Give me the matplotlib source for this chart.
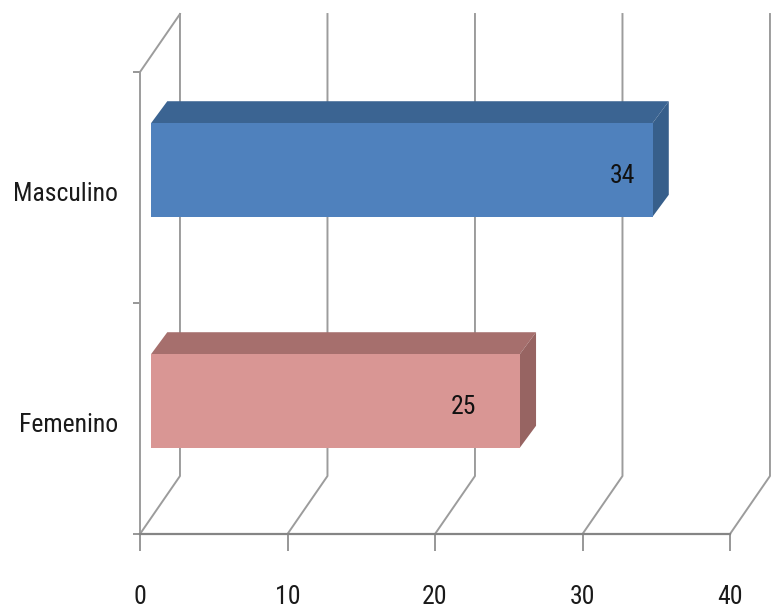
import matplotlib
matplotlib.use('Agg')
import matplotlib.pyplot as plt
from matplotlib import font_manager

categories = ['Femenino', 'Masculino']
values = [25, 34]
x_ticks = [0, 10, 20, 30, 40]

front_colors = ['#D99694', '#4F81BD']
top_colors = ['#A66F6D', '#3B6492']
side_colors = ['#976462', '#375F8B']

W, H = 773, 616
GRID = '#9c9c9c'

# 3d look: offsets in data units
wall_dx, wall_dy = 2.71, 0.251
bar_dx, bar_dy = 1.1, 0.095
bar_start = 0.75
bar_h = 0.405
bar_shift = 0.076
label_back = [3.85, 2.05]  # how far the value label sits in from the bar end

names = {f.name for f in font_manager.fontManager.ttflist}
font = 'Liberation Sans'
size = 16.5
for cand in ['Liberation Sans Narrow', 'Roboto Condensed', 'Open Sans Condensed', 'Noto Sans Condensed']:
    if cand in names:
        font = cand
        size = 18.5
        break

fig = plt.figure(figsize=(W / 100, H / 100), dpi=100)
ax = fig.add_axes([140 / W, 1 - 534 / H, 590 / W, 462 / H])
ax.set_xlim(0, 40)
ax.set_ylim(0, 2)
ax.patch.set_visible(False)

for s in ['top', 'right']:
    ax.spines[s].set_visible(False)
ax.spines['left'].set_color(GRID)
ax.spines['left'].set_linewidth(1.4)
ax.spines['bottom'].set_color('#858585')
ax.spines['bottom'].set_linewidth(1.6)

# back wall gridlines and floor diagonals
for t in x_ticks:
    ax.plot([t, t + wall_dx, t + wall_dx], [0, wall_dy, 2 + wall_dy],
            color=GRID, lw=1.4, clip_on=False, zorder=1)
ax.plot([0, wall_dx], [2, 2 + wall_dy], color=GRID, lw=1.4, clip_on=False, zorder=1)

for i, (name, val) in enumerate(zip(categories, values)):
    x0 = bar_start
    x1 = bar_start + val
    y0 = i + 0.5 + bar_shift - bar_h / 2
    y1 = y0 + bar_h
    ax.fill([x0, x1, x1 + bar_dx, x0 + bar_dx], [y1, y1, y1 + bar_dy, y1 + bar_dy],
            color=top_colors[i], lw=0, clip_on=False, zorder=3)
    ax.fill([x1, x1 + bar_dx, x1 + bar_dx, x1], [y0, y0 + bar_dy, y1 + bar_dy, y1],
            color=side_colors[i], lw=0, clip_on=False, zorder=3)
    ax.barh(y0 + bar_h / 2, val, left=x0, height=bar_h, color=front_colors[i], lw=0, zorder=4)
    ax.text(x1 - label_back[i], y0 + bar_h / 2 - 0.025, str(val), ha='center', va='center',
            fontsize=size, family=font, color='#111111', zorder=5)
    ax.text(-1.5, i + 0.5 - 0.03, name, ha='right', va='center',
            fontsize=size, family=font, color='#1a1a1a', clip_on=False)

ax.set_xticks(x_ticks)
ax.set_xticklabels([str(t) for t in x_ticks], fontsize=size, family=font, color='#1a1a1a')
ax.set_yticks([0, 1, 2])
ax.set_yticklabels([])
ax.tick_params(axis='x', length=12, width=1.2, color='#858585', pad=25)
ax.tick_params(axis='y', length=5, width=1.2, color='#858585')

fig.savefig('out.png', dpi=100)
